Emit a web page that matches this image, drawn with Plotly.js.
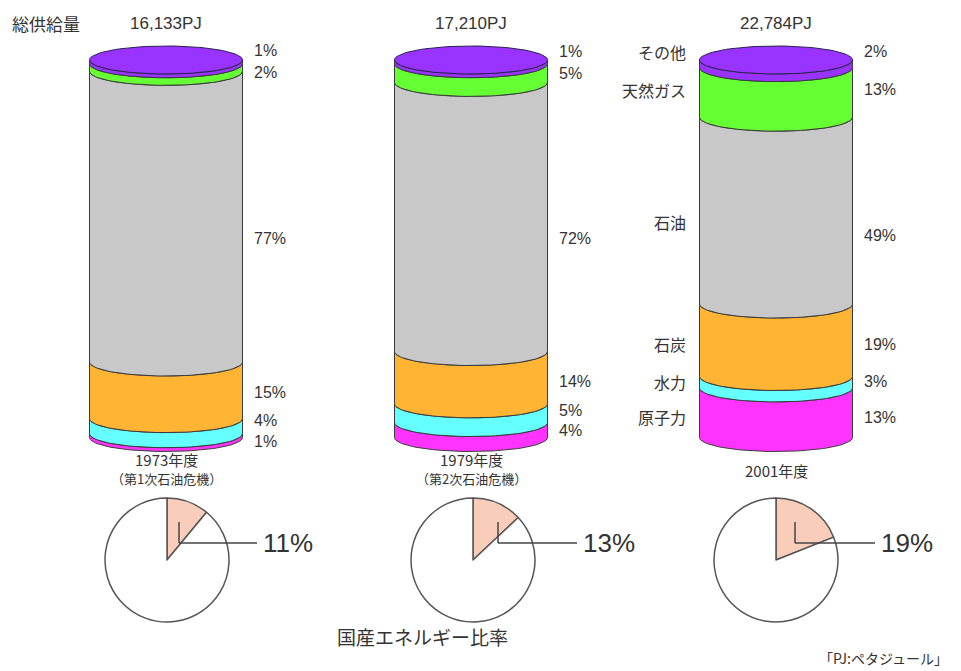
<!DOCTYPE html>
<html>
<head>
<meta charset="utf-8">
<script src="https://cdn.plot.ly/plotly-3.0.1.min.js"></script>
<style>html,body{margin:0;padding:0;background:#fff;}</style>
</head>
<body>
<div id="chart" style="width:961px;height:671px;"></div>
<script>
// Primary energy supply mix by fiscal year (percent of total supply)
const years = ['1973年度', '1979年度', '2001年度'];
const subtitles = ['（第1次石油危機）', '（第2次石油危機）', ''];
const totals = ['16,133PJ', '17,210PJ', '22,784PJ'];

// Sources, listed from the bottom of each column to the top
const sources = ['原子力', '水力', '石炭', '石油', '天然ガス', 'その他'];
const nuclear = [1, 4, 13];
const hydro = [4, 5, 3];
const coal = [15, 14, 19];
const oil = [77, 72, 49];
const gas = [2, 5, 13];
const other = [1, 1, 2];

// Share of domestically produced energy
const domesticShare = [11, 13, 19];

// ---- styling and layout ----
const W = 961, H = 671;
const px = x => x / W;
const py = y => 1 - y / H;

const sourceColors = ['#ff33ff', '#66ffff', '#ffb433', '#c8c8c8', '#66ff33', '#9933ff'];
const edgeColor = '#3a3a3a';
const textColor = '#333333';
const jpFont = 'Noto Sans CJK JP, sans-serif';
const numFont = 'Liberation Sans, Arial, sans-serif';

// column geometry (pixels)
const colCenterPx = 166, colStepPx = 305, colHalfPx = 76.5;
const baseYPx = 437.5, pxPerPct = 3.775, capRyPx = 14;

const xRange = [(0 - colCenterPx) / colStepPx, (W - colCenterPx) / colStepPx];
const yRange = [(baseYPx - H) / pxPerPct, baseYPx / pxPerPct];
const rx = colHalfPx / colStepPx;
const ry = capRyPx / pxPerPct;
const colCenterOf = i => colCenterPx + colStepPx * i;

// vertical placement of the value labels (pixels), bottom-to-top order
const valueLabelY = [
  [441, 420, 392, 238, 72, 51],
  [430, 410, 382, 238, 73, 52],
  [417, 382, 344, 235, 90, 52]
];
const nameLabelY = [417, 382, 344, 222, 90, 52];

// pie placement (pixels)
const pieCenterX = [167, 473, 776];
const pieCenterY = 560, pieR = 62;
const leaderX = [179, 498, 795];
const leaderEndX = [257, 577, 875];
const leaderTopY = 522, leaderY = 543;

const series = [nuclear, hydro, coal, oil, gas, other];
const traces = [];
const N = 48;

function segmentPath(c, a, b) {
  const xs = [], ys = [];
  // lower front arc at level a, left to right
  for (let k = 0; k <= N; k++) {
    const t = Math.PI - Math.PI * k / N;
    xs.push(c + rx * Math.cos(t));
    ys.push(a - ry * Math.sin(t));
  }
  // upper front arc at level b, right to left
  for (let k = 0; k <= N; k++) {
    const t = Math.PI * k / N;
    xs.push(c + rx * Math.cos(t));
    ys.push(b - ry * Math.sin(t));
  }
  xs.push(xs[0]); ys.push(ys[0]);
  return {xs, ys};
}

years.forEach((yr, i) => {
  const vals = series.map(s => s[i]);
  const sum = vals.reduce((p, q) => p + q, 0);
  let level = 0;
  vals.forEach((v, j) => {
    const a = level;
    const b = level + v / sum * 100;
    level = b;
    const p = segmentPath(i, a, b);
    traces.push({
      type: 'scatter', mode: 'lines', x: p.xs, y: p.ys,
      fill: 'toself', fillcolor: sourceColors[j],
      line: {color: edgeColor, width: 1},
      hoverinfo: 'skip', showlegend: false
    });
  });
  // top face of the column
  const tx = [], ty = [];
  for (let k = 0; k <= 2 * N; k++) {
    const t = 2 * Math.PI * k / (2 * N);
    tx.push(i + rx * Math.cos(t));
    ty.push(level + ry * Math.sin(t));
  }
  traces.push({
    type: 'scatter', mode: 'lines', x: tx, y: ty,
    fill: 'toself', fillcolor: sourceColors[sourceColors.length - 1],
    line: {color: '#2a2050', width: 1},
    hoverinfo: 'skip', showlegend: false
  });

  // domestic share pie
  traces.push({
    type: 'pie', values: [domesticShare[i], 100 - domesticShare[i]],
    labels: ['国産', '輸入'], sort: false, direction: 'clockwise', rotation: 0,
    marker: {colors: ['#f9cdb9', '#ffffff'], line: {color: '#555555', width: 1.5}},
    textinfo: 'none', hoverinfo: 'skip', showlegend: false,
    domain: {x: [px(pieCenterX[i] - pieR), px(pieCenterX[i] + pieR)],
             y: [py(pieCenterY + pieR), py(pieCenterY - pieR)]}
  });
});

const annotations = [];
const shapes = [];
const ann = (text, x, y, xa, size, font) => annotations.push({
  text, x: px(x), y: py(y), xref: 'paper', yref: 'paper',
  xanchor: xa, yanchor: 'middle', showarrow: false,
  font: {family: font || jpFont, size: size, color: textColor}
});

ann('総供給量', 10, 24, 'left', 17);
years.forEach((yr, i) => {
  const c = colCenterOf(i);
  ann(totals[i], c, 24, 'center', 17, numFont);
  series.forEach((s, j) => {
    ann(s[i] + '%', c + colHalfPx + 9, valueLabelY[i][j], 'left', 16, numFont);
  });
  if (subtitles[i]) {
    ann(yr, c, 459, 'center', 15);
    ann(subtitles[i], c, 478, 'center', 13);
  } else {
    ann(yr, c, 470, 'center', 15);
  }
  // pie leader and label
  shapes.push({type: 'line', xref: 'paper', yref: 'paper',
    x0: px(leaderX[i]), x1: px(leaderX[i]), y0: py(leaderTopY), y1: py(leaderY),
    line: {color: '#444', width: 1.5}});
  shapes.push({type: 'line', xref: 'paper', yref: 'paper',
    x0: px(leaderX[i]), x1: px(leaderEndX[i]), y0: py(leaderY), y1: py(leaderY),
    line: {color: '#444', width: 1.5}});
  ann(domesticShare[i] + '%', leaderEndX[i] + 4, leaderY, 'left', 26, numFont);
});
sources.forEach((name, j) => ann(name, colCenterOf(2) - colHalfPx - 12, nameLabelY[j], 'right', 16));

ann('国産エネルギー比率', 422, 636, 'center', 19);
ann('「PJ:ペタジュール」', 950, 658, 'right', 14);

const layout = {
  width: W, height: H,
  margin: {l: 0, r: 0, t: 0, b: 0},
  paper_bgcolor: '#ffffff', plot_bgcolor: '#ffffff',
  xaxis: {range: xRange, visible: false, fixedrange: true},
  yaxis: {range: yRange, visible: false, fixedrange: true},
  annotations, shapes, showlegend: false
};

Plotly.newPlot('chart', traces, layout, {staticPlot: true, displayModeBar: false});
</script>
</body>
</html>
